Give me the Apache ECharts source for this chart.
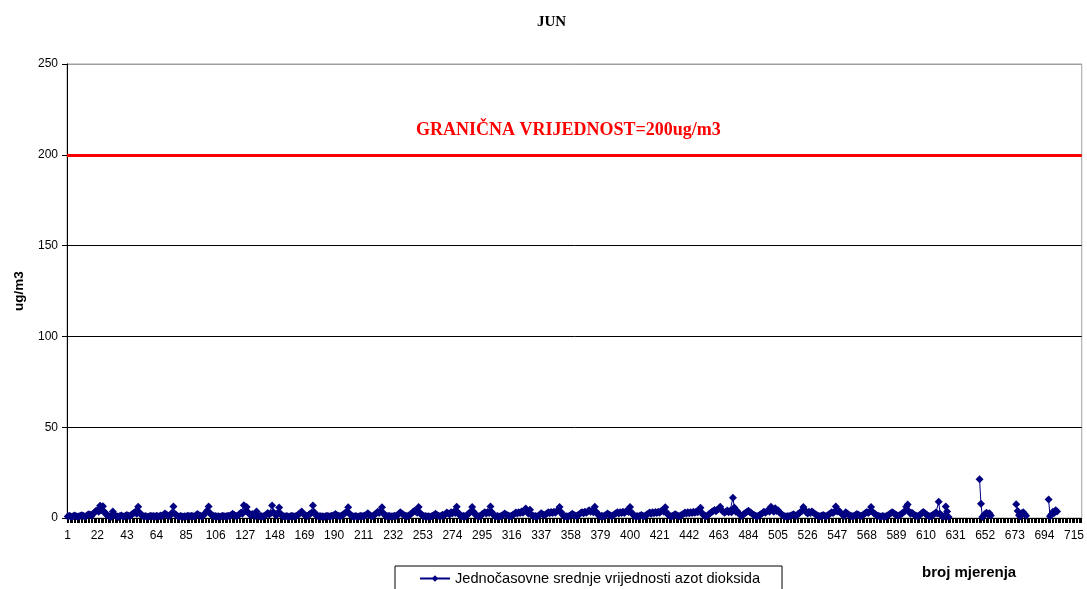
<!DOCTYPE html>
<html>
<head>
<meta charset="utf-8">
<script src="https://cdn.jsdelivr.net/npm/echarts@6/dist/echarts.min.js"></script>
<style>
html,body{margin:0;padding:0;background:#fff;}
#chart{width:1087px;height:589px;}
</style>
</head>
<body>
<div id="chart"></div>
<script>
const chartTitle = 'JUN';
const seriesName = 'Jednočasovne srednje vrijednosti azot dioksida';
const limitValue = 200;
const limitLabel = 'GRANIČNA VRIJEDNOST=200ug/m3';
const yAxisName = 'ug/m3';
const xAxisName = 'broj mjerenja';
const yTicks = [0, 50, 100, 150, 200, 250];
const categoryCount = 720;
const categories = Array.from({length: categoryCount}, (_, i) => String(i + 1));

// hourly NO2 values (ug/m3), 24 per row (day), null = no measurement
const no2Values = [
  0.8,1.2,0.9,0.6,1.1,1.4,1.0,0.7,0.9,1.3,1.5,1.2,0.8,1.0,1.6,2.1,1.8,1.2,2.4,3.1,3.8,4.2,3.5,6.8,
  4.2,6.5,3.4,2.2,1.5,1.1,0.9,0.7,3.6,1.8,1.2,0.9,0.6,1.1,1.4,1.0,0.8,1.3,1.7,1.2,0.9,1.6,2.3,2.8,
  3.5,2.4,6.2,3.0,1.8,1.2,0.9,1.1,0.8,0.7,1.0,1.3,0.9,1.1,0.8,1.2,1.0,0.9,1.4,1.1,1.8,2.5,1.9,1.4,
  1.1,1.6,2.9,6.3,2.4,1.6,1.0,0.8,1.1,0.9,0.7,1.0,0.8,1.2,1.1,0.9,1.3,1.0,0.8,1.5,2.2,1.7,1.2,0.9,
  1.3,2.1,3.0,4.1,6.4,2.8,1.7,1.2,0.9,1.1,0.8,1.0,0.7,0.9,1.2,1.0,0.8,1.1,1.3,1.0,1.6,2.4,1.8,1.3,
  1.1,1.5,2.2,3.0,2.4,7.0,3.9,6.1,3.1,2.1,1.4,2.2,1.6,1.1,3.6,1.2,0.9,1.2,0.8,1.0,1.4,2.0,2.7,1.9,
  2.6,6.9,3.2,2.0,1.4,2.8,5.8,2.5,1.3,1.0,0.8,1.1,0.9,0.7,1.0,1.2,0.9,0.8,1.1,1.5,2.1,2.8,3.6,2.4,
  1.8,1.4,1.1,1.6,2.3,2.9,6.9,3.1,1.7,1.2,0.9,1.1,0.8,1.0,0.7,0.9,1.2,1.0,0.8,1.3,1.1,1.6,2.2,1.5,
  1.2,1.0,1.3,1.7,2.2,2.9,3.4,5.9,2.5,1.4,1.0,0.8,1.1,0.9,0.7,1.0,1.2,0.9,1.1,1.4,1.9,2.6,1.8,1.3,
  1.0,1.4,2.0,2.6,3.4,2.8,3.7,5.9,2.8,1.5,1.1,0.9,1.2,0.8,1.0,0.9,1.3,1.1,1.6,2.4,3.1,2.5,1.9,1.4,
  1.2,1.0,1.4,1.9,2.5,3.3,4.0,3.6,2.9,6.0,2.9,1.8,1.2,0.9,1.1,0.8,1.0,0.7,0.9,1.2,1.7,2.3,1.6,1.2,
  1.0,1.3,1.8,1.4,2.2,3.0,2.5,1.9,3.1,2.6,3.4,2.8,6.2,3.0,1.7,1.1,0.9,1.2,0.8,1.4,2.0,2.8,3.6,6.1,
  3.4,2.0,1.4,1.1,0.9,1.2,2.0,2.6,3.1,2.5,3.3,2.7,6.3,3.2,1.8,1.2,0.9,1.1,0.8,1.0,1.3,1.8,2.5,1.9,
  1.5,1.2,1.0,1.3,1.8,2.4,3.0,2.5,3.2,2.7,3.6,2.9,4.1,5.3,3.1,2.3,4.5,1.9,1.2,0.9,1.1,0.8,1.3,1.9,
  2.6,2.0,1.5,1.9,2.5,3.1,2.6,3.3,2.8,3.5,2.9,3.7,4.3,6.0,3.3,1.8,1.2,0.9,1.0,0.8,1.2,1.7,2.4,1.8,
  1.4,1.1,1.5,2.1,2.7,3.2,2.6,3.4,2.9,3.6,4.2,3.5,4.0,3.1,6.2,3.4,2.1,1.4,1.0,1.2,0.9,1.3,1.8,2.5,
  1.9,1.4,1.1,1.5,2.0,2.6,3.1,2.5,3.2,2.7,3.4,2.8,3.6,4.1,3.3,6.1,3.2,1.9,1.3,1.0,1.1,0.8,1.2,1.7,
  1.3,1.0,1.4,1.9,2.5,3.0,2.4,3.1,2.6,3.3,2.7,3.5,2.9,3.8,4.2,3.4,5.9,3.0,1.8,1.2,0.9,1.1,1.5,2.1,
  1.6,1.2,1.0,1.4,1.9,2.4,3.0,2.5,3.1,2.6,3.2,2.7,3.4,2.9,3.6,3.1,3.8,5.6,2.9,1.7,1.2,1.0,1.4,2.0,
  2.7,3.3,3.9,4.4,3.7,4.6,5.1,6.2,4.3,3.6,2.9,3.5,4.1,3.2,4.0,3.1,11.2,5.8,3.4,3.9,2.6,1.8,1.3,1.7,
  2.3,2.9,3.5,4.0,3.3,2.7,2.1,1.6,1.2,1.0,1.3,1.7,2.2,2.8,3.4,2.9,3.6,4.2,3.5,6.2,4.5,3.4,5.4,3.8,
  4.3,3.1,2.4,1.8,1.3,1.0,0.8,1.1,0.9,1.2,1.6,2.1,1.5,1.2,2.0,2.6,3.3,3.9,6.1,4.4,3.2,2.5,3.4,2.7,
  3.6,3.0,2.3,1.8,1.4,1.1,0.9,1.3,1.7,1.3,1.0,1.4,1.9,2.5,3.2,2.8,3.4,6.3,3.6,4.1,3.2,2.4,1.8,1.3,
  3.1,2.5,1.9,1.4,1.1,0.9,1.2,1.6,2.2,1.8,1.4,1.1,1.5,2.0,2.7,3.3,2.8,3.5,6.0,3.4,2.6,2.0,1.5,1.2,
  1.0,0.8,1.1,0.9,0.8,1.1,1.5,2.0,2.6,3.2,2.7,2.1,1.6,1.2,1.5,1.9,2.5,3.1,3.7,6.2,7.4,3.6,2.4,2.9,
  2.2,1.7,1.3,1.0,1.4,1.9,2.6,3.3,2.7,2.0,1.5,1.1,0.9,1.3,1.8,2.4,3.0,2.5,8.9,2.4,1.2,0.9,1.0,6.4,
  3.6,0.5,null,null,null,null,null,null,null,null,null,null,null,null,null,null,null,null,null,null,null,null,null,21.3,
  7.9,0.6,1.5,2.4,2.9,1.9,2.6,1.4,null,null,null,null,null,null,null,null,null,null,null,null,null,null,null,null,
  null,7.6,3.9,1.5,1.0,2.6,3.1,2.2,1.2,null,null,null,null,null,null,null,null,null,null,null,null,null,null,null,
  10.2,0.9,2.1,3.5,2.8,4.3,3.6,null,null,null,null,null,null,null,null,null,null,null,null,null,null,null,null,null
];

const chart = echarts.init(document.getElementById('chart'), null, {renderer: 'canvas'});
const sans = 'Arial, "Liberation Sans", sans-serif';
const serif = '"Times New Roman", "Liberation Serif", serif';

chart.setOption({
  animation: false,
  backgroundColor: '#ffffff',
  title: {
    text: chartTitle,
    left: 532,
    top: 10,
    textStyle: {fontFamily: serif, fontSize: 15, fontWeight: 'bold', color: '#000'}
  },
  legend: {
    left: 395,
    top: 566,
    data: [seriesName],
    itemWidth: 30,
    itemHeight: 8,
    itemGap: 5,
    padding: [5, 22, 5, 24],
    borderColor: '#000',
    borderWidth: 1,
    textStyle: {fontFamily: sans, fontSize: 14.6, color: '#000'}
  },
  grid: {
    left: 67, right: 5, top: 64, bottom: 71,
    show: true, borderColor: '#a0a0a0', borderWidth: 1
  },
  xAxis: {
    type: 'category',
    data: categories,
    boundaryGap: true,
    axisLine: {lineStyle: {color: '#000', width: 1}},
    axisTick: {show: true, interval: 0, length: 5, lineStyle: {color: '#000'}},
    axisLabel: {interval: 20, margin: 12, fontFamily: sans, fontSize: 12, color: '#000'},
    splitLine: {show: false}
  },
  yAxis: {
    type: 'value',
    min: yTicks[0],
    max: yTicks[yTicks.length - 1],
    interval: 50,
    name: yAxisName,
    nameLocation: 'middle',
    nameGap: 41,
    nameTextStyle: {fontFamily: sans, fontSize: 13.5, fontWeight: 'bold', color: '#000'},
    axisLine: {show: true, lineStyle: {color: '#000'}},
    axisTick: {show: true, length: 5, lineStyle: {color: '#000'}},
    axisLabel: {margin: 9, fontFamily: sans, fontSize: 12, color: '#000'},
    splitLine: {show: true, lineStyle: {color: ['#000', '#000', '#000', '#000', '#000', '#a0a0a0'], width: 1}}
  },
  graphic: [{
    type: 'text',
    left: 922,
    top: 565,
    style: {text: xAxisName, font: 'bold 15px ' + sans, fill: '#000'}
  }],
  series: [{
    name: seriesName,
    type: 'line',
    data: no2Values,
    connectNulls: false,
    symbol: 'diamond',
    symbolSize: 8,
    showSymbol: true,
    showAllSymbol: true,
    lineStyle: {color: '#000080', width: 1},
    itemStyle: {color: '#000080'},
    markLine: {
      silent: true,
      symbol: ['none', 'none'],
      data: [{yAxis: limitValue}],
      lineStyle: {color: '#ff0000', width: 3, type: 'solid'},
      label: {
        show: true,
        position: 'middle',
        distance: 15,
        formatter: limitLabel,
        fontFamily: serif,
        fontSize: 18,
        fontWeight: 'bold',
        color: '#ff0000',
        padding: [0, 12, 0, 0]
      }
    }
  }]
});
</script>
</body>
</html>
